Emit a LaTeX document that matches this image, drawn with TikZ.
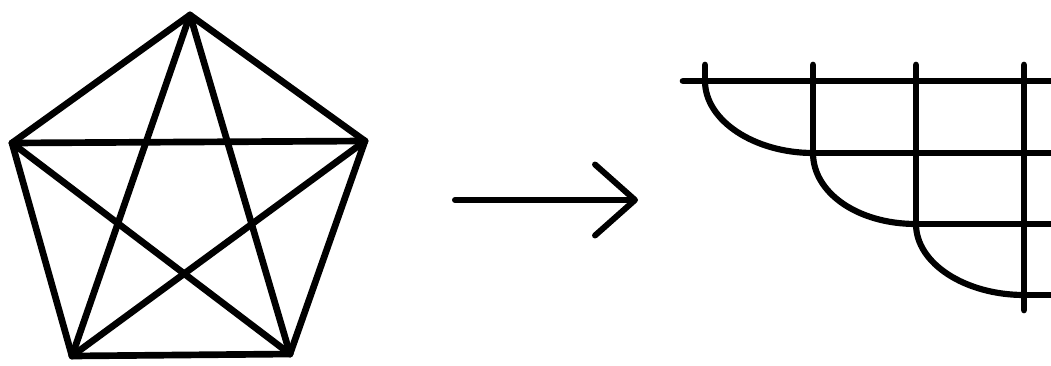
\documentclass[tikz,border=0pt]{standalone}
\usetikzlibrary{arrows.meta}
\tikzset{
  edge/.style={line width=3.8pt,line cap=round,line join=round},
  maparr/.style={edge,line width=3.4pt,-{Straight Barb[length=0.8cm,width=1.42cm,round]}},
  curvedge/.style={edge,line width=3.5pt}
}
\begin{document}
\begin{tikzpicture}[x=0.02cm,y=-0.02cm]
  \useasboundingbox (0,0) rectangle (1051,365);

  % complete graph on five vertices
  \coordinate (v1) at (190,15);
  \coordinate (v2) at (365,141);
  \coordinate (v3) at (290,354);
  \coordinate (v4) at (72,356);
  \coordinate (v5) at (12,143);
  \foreach \i/\j in {1/2,2/3,3/4,4/5,5/1,1/3,1/4,2/4,2/5,3/5}
    \draw[edge] (v\i) -- (v\j);

  % map
  \coordinate (src) at (455,200);
  \coordinate (dst) at (638,200);
  \draw[maparr] (src) -- (dst);

  % staircase grid
  \foreach \i/\x/\y in {1/705/81,2/813/153,3/916/224,4/1024/295} {
    \coordinate (g\i) at (\x,\y);
    \coordinate (t\i) at (\x,65);
    \coordinate (r\i) at (1051,\y);
  }
  \coordinate (l1) at (683,81);
  \coordinate (b4) at (1024,310);

  \draw[edge] (l1) -- (r1);
  \foreach \i in {2,3,4}
    \draw[edge] (g\i) -- (r\i);
  \foreach \i in {1,2,3}
    \draw[edge] (t\i) -- (g\i);
  \draw[edge] (t4) -- (b4);
  \foreach \i/\j in {1/2,2/3,3/4}
    \draw[curvedge] (g\i) .. controls +(0,40) and +(-58,0) .. (g\j);
\end{tikzpicture}
\end{document}
